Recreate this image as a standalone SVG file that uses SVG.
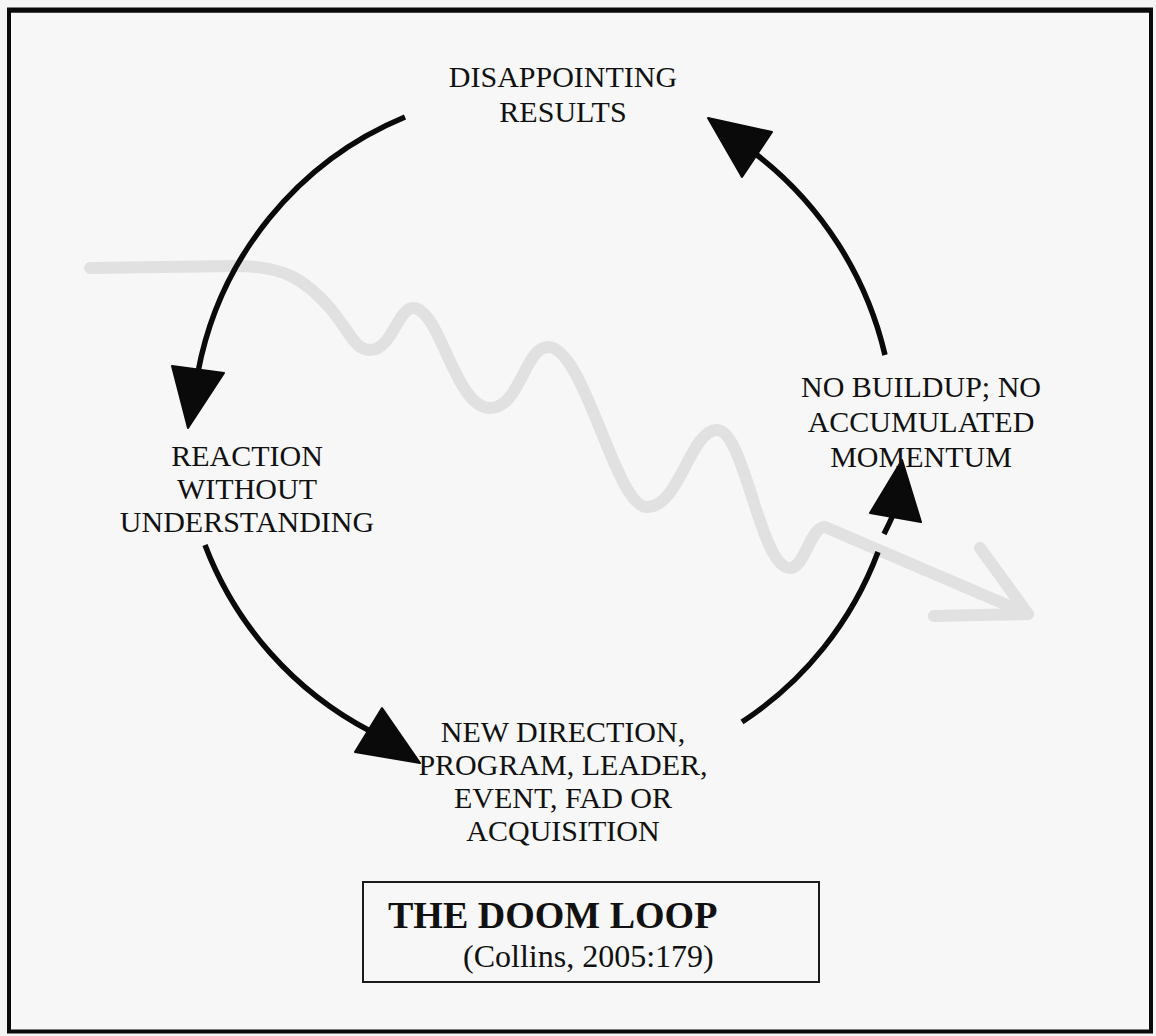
<svg xmlns="http://www.w3.org/2000/svg" width="1156" height="1036" viewBox="0 0 1156 1036">
  <style>
    .lbl { font-family: "Liberation Serif", "Times New Roman", serif; font-size: 30px; fill: #111; text-anchor: middle; }
    .arc { fill: none; stroke: #0a0a0a; stroke-width: 5.5; stroke-linecap: butt; }
    .head { fill: #0a0a0a; stroke: #0a0a0a; stroke-width: 2; stroke-linejoin: round; }
    .wave { fill: none; stroke: #e1e1e1; stroke-width: 12; stroke-linecap: round; stroke-linejoin: round; }
  </style>
  <rect x="0" y="0" width="1156" height="1036" fill="#f5f5f5"/>
  <rect id="frame" x="9" y="10.5" width="1142" height="1021" fill="#f7f7f7" stroke="#0a0a0a" stroke-width="4"/>
  <line x1="7" y1="10" x2="1153" y2="10" stroke="#0a0a0a" stroke-width="5"/>

  <g id="trend">
    <path class="wave" d="M90,268 L235,266 C285,266 305,280 330,308 C350,332 355,350 370,350 C392,350 398,308 413,308 C440,308 455,408 490,408 C520,408 525,347 548,347 C585,347 615,507 647,507 C680,507 690,430 717,430 C745,430 760,568 790,568 C805,568 810,527 825,527 L1028,614"/>
    <path class="wave" d="M980,548 L1028,614 L934,616"/>
  </g>

  <g id="connectors">
    <path class="arc" d="M405,117 A345,345 0 0,0 198,372"/>
    <polygon class="head" points="172,366 224,373 188,428"/>
    <path class="arc" d="M205,545 A350,350 0 0,0 370,731"/>
    <polygon class="head" points="382,708 355,752 420,763"/>
    <path class="arc" d="M742,722 A350,350 0 0,0 878,552"/>
    <path class="arc" d="M884,534 A350,350 0 0,0 893,515"/>
    <polygon class="head" points="870,513 921,522 902,460"/>
    <path class="arc" d="M885,355 A356,356 0 0,0 757,155"/>
    <polygon class="head" points="772,132 742,177 708,118"/>
  </g>

  <g id="node-disappointing">
    <text class="lbl" x="563" y="87">DISAPPOINTING</text>
    <text class="lbl" x="563" y="122">RESULTS</text>
  </g>
  <g id="node-reaction">
    <text class="lbl" x="247" y="466">REACTION</text>
    <text class="lbl" x="247" y="499">WITHOUT</text>
    <text class="lbl" x="247" y="532">UNDERSTANDING</text>
  </g>
  <g id="node-new-direction">
    <text class="lbl" x="563" y="742">NEW DIRECTION,</text>
    <text class="lbl" x="563" y="775">PROGRAM, LEADER,</text>
    <text class="lbl" x="563" y="808">EVENT, FAD OR</text>
    <text class="lbl" x="563" y="841">ACQUISITION</text>
  </g>
  <g id="node-no-buildup">
    <text class="lbl" x="921" y="397">NO BUILDUP; NO</text>
    <text class="lbl" x="921" y="432">ACCUMULATED</text>
    <text class="lbl" x="921" y="467">MOMENTUM</text>
  </g>

  <g id="title">
    <rect x="363" y="882" width="456" height="100" fill="none" stroke="#1a1a1a" stroke-width="2"/>
    <text x="388" y="928" font-family="Liberation Serif, 'Times New Roman', serif" font-size="38" font-weight="bold" fill="#111">THE DOOM LOOP</text>
    <text x="463" y="967" font-family="Liberation Serif, 'Times New Roman', serif" font-size="32" fill="#111">(Collins, 2005:179)</text>
  </g>
</svg>
